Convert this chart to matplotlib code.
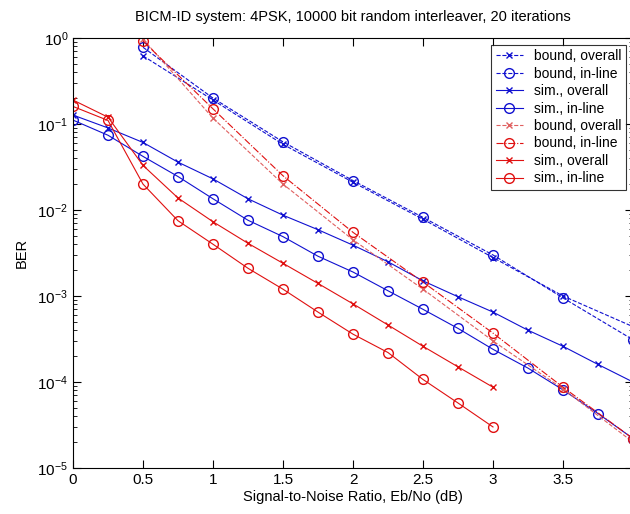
import numpy as np
import matplotlib
matplotlib.use("Agg")
import matplotlib.pyplot as plt
from matplotlib.ticker import LogLocator, NullFormatter

plt.rcParams['font.family'] = ['Liberation Sans', 'DejaVu Sans']

# Eb/No points (dB)
snr_bound = [0.5, 1.0, 1.5, 2.0, 2.5, 3.0, 3.5, 4.0]
snr_sim_blue = [0, 0.25, 0.5, 0.75, 1.0, 1.25, 1.5, 1.75, 2.0, 2.25, 2.5,
                2.75, 3.0, 3.25, 3.5, 3.75, 4.0]
snr_sim_red = [0, 0.25, 0.5, 0.75, 1.0, 1.25, 1.5, 1.75, 2.0, 2.25, 2.5,
               2.75, 3.0]

# blue curves
blue_bound_overall = [0.62, 0.19, 0.058, 0.021, 0.0078, 0.0028, 0.001, 0.00044]
blue_bound_inline = [0.78, 0.20, 0.062, 0.022, 0.0082, 0.0030, 0.00095, 0.00031]
blue_sim_overall = [0.127, 0.090, 0.061, 0.036, 0.023, 0.0135, 0.0087, 0.0059,
                    0.0039, 0.0025, 0.0015, 9.8e-4, 6.5e-4, 4.0e-4, 2.6e-4,
                    1.6e-4, 1.0e-4]
blue_sim_inline = [0.111, 0.074, 0.042, 0.0245, 0.0135, 0.0076, 0.0049, 0.0029,
                   0.0019, 0.00115, 7.0e-4, 4.2e-4, 2.4e-4, 1.45e-4, 8.1e-5,
                   4.3e-5, 2.2e-5]

# red curves
red_bound_overall = [0.97, 0.117, 0.020, 0.0045, 0.0012, 3.0e-4, 8.3e-5, 2.0e-5]
red_bound_inline = [0.92, 0.15, 0.025, 0.0055, 0.00145, 3.7e-4, 8.7e-5, 2.2e-5]
red_sim_overall = [0.19, 0.12, 0.033, 0.0138, 0.0073, 0.0041, 0.0024, 0.0014,
                   8.1e-4, 4.6e-4, 2.6e-4, 1.5e-4, 8.7e-5]
red_sim_inline = [0.16, 0.11, 0.020, 0.0075, 0.0040, 0.0021, 0.0012, 6.5e-4,
                  3.6e-4, 2.2e-4, 1.07e-4, 5.7e-5, 3.0e-5]

labels = ["bound, overall", "bound, in-line", "sim., overall", "sim., in-line"]

fig = plt.figure(figsize=(6.3, 5.14), dpi=100)
# right edge of the axes falls just outside the picture, as in the cropped original
ax = fig.add_axes([73/630, 46/514, 560/630, 430/514])

ms = 7
mx = 5
lw = 0.8
blue = "#1010d0"
red = "#e01010"

ax.semilogy(snr_bound, blue_bound_overall, "--x", color=blue, lw=lw, ms=mx, label=labels[0])
ax.semilogy(snr_bound, blue_bound_inline, "--o", color=blue, lw=lw, ms=ms, mfc="none", label=labels[1])
ax.semilogy(snr_sim_blue, blue_sim_overall, "-x", color=blue, lw=lw, ms=mx, label=labels[2])
ax.semilogy(snr_sim_blue, blue_sim_inline, "-o", color=blue, lw=lw, ms=ms, mfc="none", label=labels[3])
ax.semilogy(snr_bound, red_bound_overall, "--x", color="#e06060", lw=lw, ms=mx, label=labels[0])
ax.semilogy(snr_bound, red_bound_inline, "-.o", color=red, lw=lw, ms=ms, mfc="none", label=labels[1])
ax.semilogy(snr_sim_red, red_sim_overall, "-x", color=red, lw=lw, ms=mx, label=labels[2])
ax.semilogy(snr_sim_red, red_sim_inline, "-o", color=red, lw=lw, ms=ms, mfc="none", label=labels[3])

ax.set_xlim(0, 4)
ax.set_ylim(1e-5, 1)
ax.set_xticks([0, 0.5, 1, 1.5, 2, 2.5, 3, 3.5])
ax.set_xticklabels(["0", "0.5", "1", "1.5", "2", "2.5", "3", "3.5"])
ax.yaxis.set_major_locator(LogLocator(base=10, numticks=10))
ax.yaxis.set_minor_locator(LogLocator(base=10, subs=np.arange(2, 10), numticks=10))
ax.yaxis.set_minor_formatter(NullFormatter())
ax.tick_params(which="both", direction="in", top=True, right=True, labelsize=11)
ax.tick_params(which="major", length=6)
ax.tick_params(which="minor", length=3)

ax.set_title("BICM-ID system: 4PSK, 10000 bit random interleaver, 20 iterations",
             fontsize=10.5, pad=12)
ax.set_xlabel("Signal-to-Noise Ratio, Eb/No (dB)", fontsize=10.5, labelpad=2)
ax.set_ylabel("BER", fontsize=10.5, labelpad=6)

leg = ax.legend(loc="upper right", fontsize=10, frameon=True, fancybox=False,
                edgecolor="black", handlelength=2.0, borderpad=0.3,
                labelspacing=0.25, borderaxespad=0.5)
leg.get_frame().set_linewidth(0.8)

fig.savefig("out.png", dpi=100)
